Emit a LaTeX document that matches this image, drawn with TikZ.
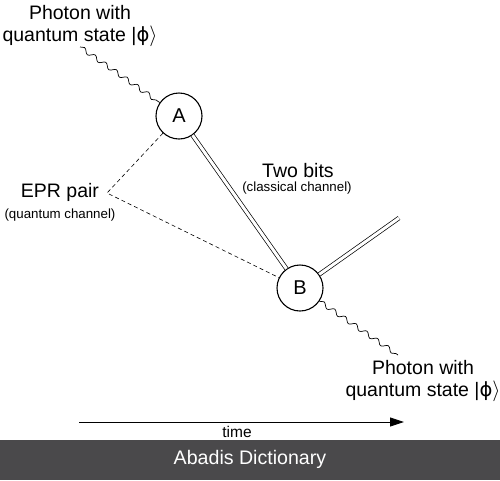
\documentclass[tikz,border=0pt]{standalone}
\usepackage{fontspec}
\setmainfont{Liberation Sans}
\newfontfamily\dejavu{DejaVu Sans}
\usetikzlibrary{decorations.pathmorphing,arrows.meta}
\definecolor{banner}{HTML}{4A494B}
\newcommand{\ketphi}{|{\dejavu ϕ}$\rangle$}
\begin{document}
\begin{tikzpicture}[x=1pt,y=-1pt,
  big/.style={font=\fontsize{19.5}{22}\selectfont, align=center, inner sep=0pt},
  small/.style={font=\fontsize{13.3}{15}\selectfont, inner sep=0pt},
  party/.style={circle, draw, line width=1.1pt, minimum size=46pt, inner sep=0pt, font=\fontsize{20}{22}\selectfont, fill=white},
  wave/.style={decorate, decoration={snake, amplitude=2.2pt, segment length=13pt}, line width=0.7pt},
  dbl/.style={double distance=3pt, line width=0.7pt},
  epr/.style={dash pattern=on 4pt off 3pt, line width=0.6pt}]
\useasboundingbox (0,0) rectangle (500,480);
\fill[white] (0,0) rectangle (500,480);
% nodes
\node[party] (A) at (179,116) {A};
\node[party] (B) at (300,288) {B};
\coordinate (w1) at (80,47);
\coordinate (w2) at (398,355);
\coordinate (epr) at (107,193);
\coordinate (out) at (399,218);
% photon lines
\draw[wave] (w1) -- (A);
\draw[wave] (B) -- (w2);
% classical channel
\draw[dbl] (A) -- (B);
\draw[dbl] (B) -- (out);
% EPR
\draw[epr] (A) -- (epr) -- (B);
% labels
\node[big] (t1) at (80,26) {Photon with\\quantum state \ketphi};
\node[big] (t2) at (423,381) {Photon with\\quantum state \ketphi};
\node[big] (epl) at (60,192) {EPR pair};
\node[small] (qc) at (60,215) {(quantum channel)};
\node[big] (tb) at (298,171) {Two bits};
\node[small] (cc) at (297,188) {(classical channel)};
% time axis
\coordinate (ta) at (79,422);
\coordinate (tb2) at (404,422);
\draw[line width=0.9pt, -{Triangle[length=14pt,width=9pt]}] (ta) -- (tb2);
\node[font=\fontsize{15.5}{17}\selectfont, inner sep=0pt] (time) at (237,432) {time};
% banner
\fill[banner] (0,440) rectangle (500,480);
\node[font=\fontsize{19.6}{22}\selectfont, text=white, inner sep=0pt] (ab) at (250,459) {Abadis Dictionary};
\end{tikzpicture}
\end{document}
